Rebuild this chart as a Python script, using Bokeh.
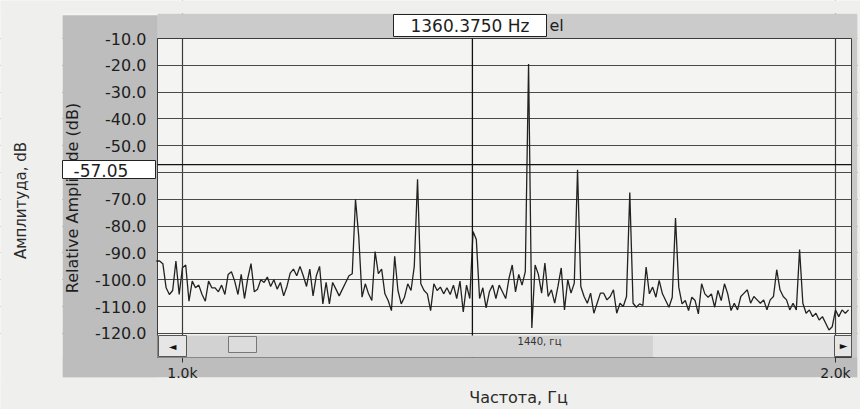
import numpy as np
from bokeh.plotting import figure
from bokeh.models import (FixedTicker, PrintfTickFormatter, NumeralTickFormatter,
                          Label, BoxAnnotation, Range1d)
from bokeh.embed import file_html
from bokeh.resources import INLINE

W, H = 860, 409

# ---------------- data ----------------
f_start_hz = 960.0
f_step_hz = 5.0
amp_db = [
    # 960 .. 1110 Hz
    -93, -93, -94, -103, -105.5, -104, -93, -105.5, -95.5, -94.5,
    -108, -100.5, -103, -102, -105.5, -108, -100.5, -103, -103, -104.5,
    -102, -105.5, -98, -97, -100.5, -105.5, -98, -107, -99.5, -94, -104.5,
    # 1115 .. 1255 Hz
    -103.5, -100, -101, -99, -102.5, -100, -103.5, -101, -106, -102.5,
    -97.5, -96, -98.5, -95, -98.5, -102.5, -96, -106, -98.5, -95,
    -109, -101, -109, -101, -103.5, -106, -103.5, -101, -98.5,
    # 1260 .. 1400 Hz
    -97.75, -70, -84, -106.5, -101.5, -105.25, -107.75, -89.5, -97.75, -96,
    -105.25, -107.75, -111.5, -91.25, -104, -109, -106.5, -101.5, -104, -95,
    -62.5, -101.5, -104, -105.25, -111.5, -101.5, -104, -102.75, -105.25,
    # 1405 .. 1545 Hz
    -103, -105.5, -102, -107, -100.5, -112, -102, -107, -82, -85,
    -107, -103, -110.5, -104.5, -102, -107, -102, -104.5, -107, -99.5,
    -94.5, -104.5, -98, -102, -97, -19.5, -118, -94.5, -98,
    # 1550 .. 1690 Hz
    -105, -93.75, -106.25, -103.75, -108.75, -102.5, -95.6, -111.25, -100, -105,
    -101.25, -59, -102.5, -106.25, -108.75, -105, -112.5, -108.75, -105, -105,
    -107.5, -106.25, -103.75, -112.5, -108.75, -110, -106.25, -67.5, -108.75,
    # 1695 .. 1840 Hz
    -110.25, -109, -109.6, -95.25, -105.25, -102.75, -106.5, -100.25, -105.25, -107.75,
    -110.25, -106.5, -77, -102.75, -109, -107.75, -111.5, -106.5, -107.75, -112.75,
    -101.5, -105.25, -106.5, -105.25, -110.25, -104, -107.75, -101.5, -105.25, -111.5,
    # 1845 .. 2020 Hz
    -108.75, -111.25, -106.25, -105, -103.75, -108.75, -106.25, -107.5, -108.75, -107.5,
    -111.25, -107.5, -106.25, -96.25, -103.75, -106.25, -107.5, -111.25, -108.75, -111.25,
    -88.75, -108.75, -112.5, -111.25, -113.75, -112.5, -115, -113.75, -116.25, -118.75,
    -117.5, -111.25, -113.75, -111.25, -112.5, -111.25,
]
freq_hz = [f_start_hz + f_step_hz * i for i in range(len(amp_db))]

y_ticks = [-10, -20, -30, -40, -50, -60, -70, -80, -90, -100, -110, -120]
x_ticks = [1000, 2000]
view_f_hz = (961.8, 2024.5)      # visible frequency span of the analyser window
view_db = (-129.0, -10.0)        # visible amplitude span
cursor_freq_hz = 1444.0
cursor_db = -57.05
readout_text = "1360.3750 Hz"
cursor_text = "-57.05"
marker_text = "1440, гц"
y_title = "Relative Amplitude (dB)"
outer_y_title = "Амплитуда, dB"
outer_x_title = "Частота, Гц"

# ---------------- geometry (page pixels) ----------------
PX_L, PX_R, PX_T, PX_B = 157, 851, 38, 357          # analyser plot area
hz_per_px = (view_f_hz[1] - view_f_hz[0]) / (PX_R - PX_L)
db_per_px = (view_db[1] - view_db[0]) / (PX_B - PX_T)
x_full = (view_f_hz[0] - PX_L * hz_per_px, view_f_hz[1] + (W - PX_R) * hz_per_px)
y_full = (view_db[0] - (H - PX_B) * db_per_px, view_db[1] + PX_T * db_per_px)

FONT = "DejaVu Sans"
PANEL = "#bdbdbd"
PANEL_TOP = "#cbcbcb"
PAGE = "#efefed"
INK = "#1e1e1e"

p = figure(width=W, height=H, output_backend="svg", toolbar_location=None,
           x_range=Range1d(*x_full), y_range=Range1d(*y_full),
           min_border=0, min_border_left=0, min_border_right=0,
           min_border_top=0, min_border_bottom=0)
p.title.text = ""
p.background_fill_color = "#f4f4f3"
p.border_fill_color = PAGE
p.outline_line_color = None

# y axis (drawn at the analyser plot's left edge)
p.yaxis.fixed_location = view_f_hz[0]
p.yaxis.bounds = view_db
p.yaxis.ticker = FixedTicker(ticks=y_ticks)
p.yaxis.formatter = PrintfTickFormatter(format="%.1f")
p.yaxis.major_label_text_font = FONT
p.yaxis.major_label_text_font_size = "16px"
p.yaxis.major_label_text_color = INK
p.yaxis.major_tick_line_color = None
p.yaxis.minor_tick_line_color = None
p.yaxis.axis_line_color = None
p.yaxis.major_tick_out = 0
p.yaxis.major_tick_in = 0
p.yaxis.major_label_standoff = 11
p.yaxis.axis_label = y_title
p.yaxis.axis_label_text_font = FONT
p.yaxis.axis_label_text_font_size = "16px"
p.yaxis.axis_label_text_font_style = "normal"
p.yaxis.axis_label_text_color = INK
p.yaxis.axis_label_standoff = 10

# x axis (drawn at the analyser plot's bottom edge)
p.xaxis.fixed_location = view_db[0]
p.xaxis.bounds = view_f_hz
p.xaxis.ticker = FixedTicker(ticks=x_ticks)
p.xaxis.formatter = NumeralTickFormatter(format="0.0a")
p.xaxis.major_label_text_font = FONT
p.xaxis.major_label_text_font_size = "14px"
p.xaxis.major_label_text_color = INK
p.xaxis.major_tick_line_color = "#333333"
p.xaxis.major_tick_out = 5
p.xaxis.major_tick_in = 0
p.xaxis.minor_tick_line_color = None
p.xaxis.axis_line_color = None
p.xaxis.major_label_standoff = 2

# grids
p.ygrid.ticker = FixedTicker(ticks=y_ticks)
p.ygrid.grid_line_color = "#4a4a4a"
p.ygrid.grid_line_width = 1.2
p.xgrid.ticker = FixedTicker(ticks=x_ticks)
p.xgrid.grid_line_color = "#3a3a3a"
p.xgrid.grid_line_width = 1.2


def box(l, r, t, b, fill, line=None, level="annotation", lw=1, fill_alpha=1.0):
    """Box in page pixels (canvas units, y measured from the top)."""
    bx = BoxAnnotation(left=l, right=r, top=t, bottom=b,
                       left_units="canvas", right_units="canvas",
                       top_units="canvas", bottom_units="canvas",
                       fill_color=fill, fill_alpha=fill_alpha,
                       line_color=line if line else "#000000", line_width=lw,
                       line_alpha=1.0 if line else 0.0, level=level)
    p.add_layout(bx)
    return bx


def label(x, y, text, size, align="center", baseline="middle", angle=0.0,
          color=INK, font=FONT):
    lb = Label(x=x, y=y, x_units="canvas", y_units="canvas", text=text,
               text_font=font, text_font_size=size, text_color=color,
               text_align=align, text_baseline=baseline, angle=angle)
    p.add_layout(lb)
    return lb


# instrument panel (grey) around the plot area, covering grid lines outside it
box(62, PX_L, 15, 377, PANEL, level="underlay")
box(PX_R, 857, 15, 377, "#c9c9c9", level="underlay")
box(PX_L, 857, 13, PX_T, PANEL_TOP, level="underlay")
box(62, PX_L, 15, PX_T, PANEL, level="underlay")
box(62, 857, PX_B, 377, PANEL, level="underlay")
# paper around the instrument panel
box(0, 62, 0, H, PAGE, level="underlay")
box(0, W, 0, 13, PAGE, level="underlay")
box(0, W, 377, H, PAGE, level="underlay")
box(857, W, 0, H, PAGE, level="underlay")
# plot-area outline
box(PX_L, PX_R, PX_T, PX_B, "#ffffff", line="#3c3c3c", level="underlay", fill_alpha=0.0)

# spectrum trace
p.line(freq_hz, amp_db, line_color="#222222", line_width=1.3)

# cursors
p.segment(x0=[view_f_hz[0]], x1=[view_f_hz[1]], y0=[cursor_db], y1=[cursor_db],
          line_color="#111111", line_width=1.3)
p.segment(x0=[cursor_freq_hz], x1=[cursor_freq_hz], y0=[view_db[0]], y1=[view_db[1]],
          line_color="#111111", line_width=1.3)

# scroll bar at the bottom of the plot area
box(PX_L, 653, 335, PX_B, "#d2d2d2")
box(653, 834, 335, PX_B, "#e3e3e3")
box(158, 186, 335, 356, "#e6e6e6", line="#555555")
box(228, 256, 336, 352, "#dcdcdc", line="#777777")
box(834, PX_R, 335, 356, "#e6e6e6", line="#555555")
label(172, 346, "◄", "10px", color="#111111")
label(843, 345, "►", "10px", color="#111111")
label(539, 341, marker_text, "10px", color="#333333")

# cursor readouts
box(62, 155, 160, 178, "#ffffff", line="#222222")
label(73, 169.5, cursor_text, "17px", align="left")
box(393, 546, 14, 36, "#ffffff", line="#222222")
label(469.5, 25.5, readout_text, "17px")
label(549, 25, "el", "16px", align="left")

# outer (book) axis titles
label(20, 200, outer_y_title, "15px", angle=np.pi / 2, color="#2a2a2a")
label(518, 397, outer_x_title, "16px", color="#2a2a2a")

open("out.html", "w").write(file_html(p, INLINE))
